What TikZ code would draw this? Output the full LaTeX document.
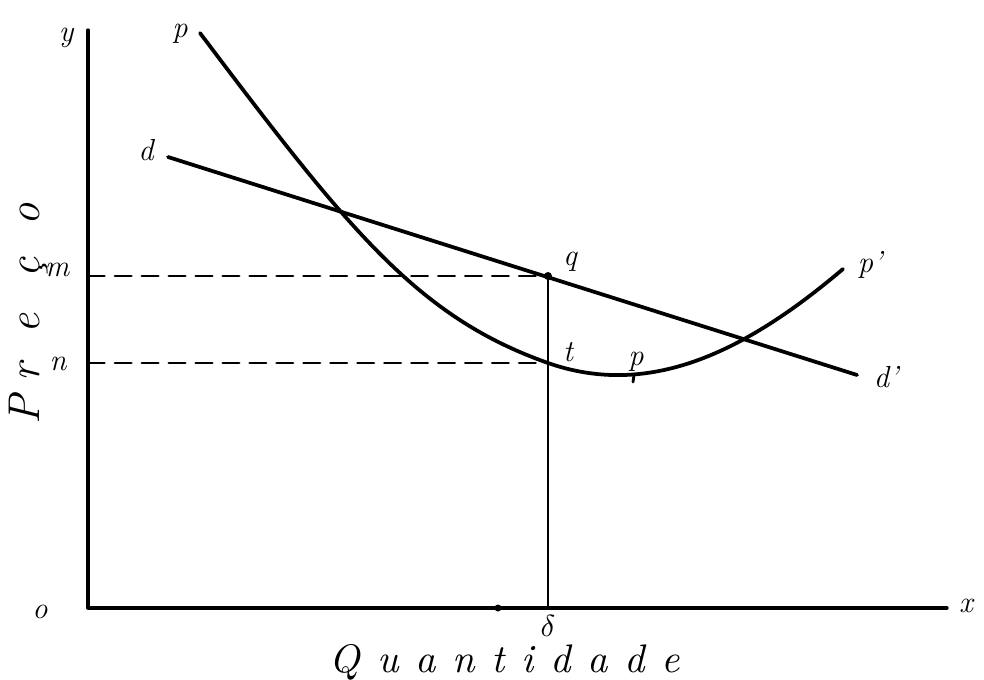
\documentclass[tikz,border=0pt]{standalone}
\usepackage{fontspec}
\newfontfamily\spacedfont{lmroman10}[Extension=.otf,UprightFont=*-regular,
  ItalicFont=*-italic,LetterSpace=42]
\begin{document}
\begin{tikzpicture}[
  x=0.03cm,
  y=-0.03cm,
  line cap=round,
  line join=round,
  axisline/.style={draw=black,line width=2.8pt},
  curveline/.style={draw=black,line width=3.2pt},
  guideline/.style={draw=black,line width=2.4pt,dash pattern=on 14pt off 9pt},
  droplet/.style={draw=black,line width=2.4pt},
  lab/.style={font=\fontsize{26}{26}\selectfont\itshape,inner sep=0pt},
  axlab/.style={font=\fontsize{38}{38}\selectfont\itshape,inner sep=0pt}
]
  \useasboundingbox (0,0) rectangle (984,680);

  % axes
  \coordinate (O) at (88,608);
  \coordinate (Y) at (88,30);
  \coordinate (X) at (947,608);
  \draw[axisline] (Y) -- (O) -- (X);
  \node[lab] (ylab) at (66,38) {y};
  \node[lab] (xlab) at (966,606) {x};
  \node[lab] (olab) at (40,612) {o};
  \fill (498,608) circle (3.5);

  % demand line d--d'
  \coordinate (d1) at (168,157);
  \coordinate (d2) at (857,375);
  \draw[curveline] (d1) -- (d2);
  \node[lab] (dlab) at (146,150) {d};
  \node[lab] (dplab) at (886,377) {d'};

  % points q, t and s
  \coordinate (q) at (548,276);
  \coordinate (t) at (548,363);
  \coordinate (s) at (548,608);
  \coordinate (m) at (88,276);
  \coordinate (n) at (88,363);

  % cost curve p--p'
  \coordinate (p1) at (200,33);
  \coordinate (p2) at (843,269);
  \draw[curveline] (p1) .. controls (350,232) and (418,317) .. (t)
    .. controls (648,398) and (743,354) .. (p2);
  \node[lab] (plab) at (180,34) {p};
  \node[lab] (pplab) at (870,265) {p'};

  \draw[guideline] (m) -- (q);
  \draw[guideline] (n) -- (t);
  \draw[droplet] (q) -- (s);
  \fill (q) circle (4);
  \node[lab] (qlab) at (570,262) {q};
  \node[lab] (tlab) at (568,352) {t};
  \node[lab] (pminlab) at (636,362) {p};
  \draw[droplet] (634,375) -- (633,382);
  \node[lab] (mlab) at (57,270) {m};
  \node[lab] (nlab) at (58,364) {n};
  \node[inner sep=0pt] (slab) at (548,626) {\scalebox{2.6}{$\delta$}};

  % axis names
  \foreach \ch/\yy in {P/410,r/372,e/323,ç/267,o/214} {
    \node[axlab,rotate=90,anchor=base] at (39,\yy) {\ch};
  }
  \node[anchor=base,inner sep=0pt,
    font=\fontsize{34}{34}\selectfont\spacedfont\itshape] (qtlab)
    at (505,672) {Quantidade};
\end{tikzpicture}
\end{document}
